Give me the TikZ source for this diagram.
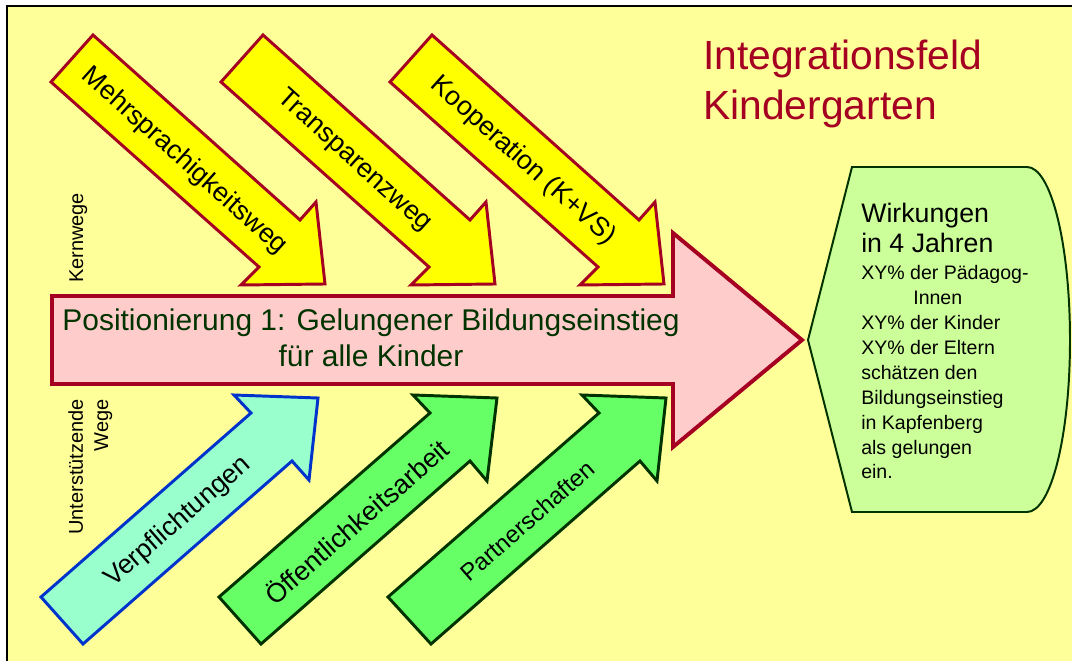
\documentclass[tikz,border=0pt]{standalone}
\usepackage{fontspec}
\setmainfont{Liberation Sans}
\usepackage{tikz}
\usetikzlibrary{positioning}
\definecolor{hintergrund}{RGB}{255,255,153}
\definecolor{wegrot}{RGB}{165,0,33}
\definecolor{kerngelb}{RGB}{255,255,0}
\definecolor{posrosa}{RGB}{255,204,204}
\definecolor{pflichtblau}{RGB}{0,51,204}
\definecolor{pflichtmint}{RGB}{153,255,204}
\definecolor{stuetzgruen}{RGB}{102,255,102}
\definecolor{dunkelgruen}{RGB}{0,51,0}
\definecolor{wirkgruen}{RGB}{204,255,153}

\begin{document}
\begin{tikzpicture}[x=0.025cm, y=-0.025cm, line join=miter,
    kernpfeil/.style={draw=wegrot, fill=kerngelb, line width=2.1pt},
    stuetzpfeil/.style={draw=dunkelgruen, fill=stuetzgruen, line width=2.1pt},
    pfeiltext/.style={inner sep=0pt, font=\fontsize{19}{23}\selectfont},
    seitentext/.style={inner sep=0pt, rotate=90, font=\fontsize{14.2}{17.8}\selectfont}]
    % Background
    \useasboundingbox (0,0) rectangle (1072,661);
    \fill[white] (0,0) rectangle (1072,661);
    \fill[hintergrund] (7,6) rectangle (1072,661);
    \draw[line width=1pt] (7,661) -- (7,6) -- (1072,6);

    % Title (base = last line)
    \node[anchor=base west, inner sep=0pt, align=left, text=wegrot,
        font=\fontsize{29}{35.6}\selectfont] (titel) at (703,120) {Integrationsfeld\\Kindergarten};

    % Draw the core paths
    \foreach \dx/\wegname/\nr in {0/Mehrsprachigkeitsweg/1, 170/Transparenzweg/2, 339/{Kooperation (K+VS)}/3} {
        \begin{scope}[shift={(\dx,0)}]
            \draw[kernpfeil] (93,35) -- (300,220) -- (316,202) -- (325,284) -- (241,285) -- (259,267) -- (51,82) -- cycle;
            \node[pfeiltext, rotate=-41.9] (kern\nr) at (184,161) {\wegname};
        \end{scope}
    }

    % Draw the main arrow
    \draw[wegrot, fill=posrosa, line width=2.8pt] (52,296) -- (673,296) -- (673,233) -- (802,340)
        -- (673,447) -- (673,384) -- (52,384) -- cycle;
    \node[anchor=base, align=center, inner sep=0pt, text=dunkelgruen,
        font=\fontsize{21.3}{26.3}\selectfont] (position) at (371,367)
        {Positionierung 1: Gelungener Bildungseinstieg\\für alle Kinder};

    % Draw the supporting paths
    \draw[pflichtblau, fill=pflichtmint, line width=2.1pt] (41,597) -- (251,413) -- (234,395) -- (318,398)
        -- (309,480) -- (292,461) -- (83,644) -- cycle;
    \node[pfeiltext, rotate=41.1] (pflicht) at (178,522) {Verpflichtungen};
    \draw[stuetzpfeil] (219,597) -- (430,413) -- (413,395) -- (497,398) -- (487,481) -- (470,461) -- (261,644) -- cycle;
    \node[pfeiltext, rotate=41.1] (oeffentlich) at (356,521) {Öffentlichkeitsarbeit};
    \draw[stuetzpfeil] (388,597) -- (599,413) -- (582,395) -- (666,398) -- (657,481) -- (640,461) -- (431,644) -- cycle;
    \node[pfeiltext, rotate=41.1, font=\fontsize{17}{20}\selectfont] (partner) at (527,521) {Partnerschaften};

    % Side labels
    \node[seitentext, anchor=base] (kernwege) at (83,238) {Kernwege};
    \node[seitentext, anchor=base, align=right] (stuetzwege) at (108,467) {Unterstützende\\Wege};

    % Draw the result box
    \draw[dunkelgruen, fill=wirkgruen, line width=1.4pt] (852,167) -- (1027,167)
        .. controls (1051,167) and (1070,244) .. (1070,340)
        .. controls (1070,436) and (1051,512) .. (1027,512) -- (852,512) -- (808,340) -- cycle;
    \node[anchor=base west, align=left, inner sep=0pt, font=\fontsize{19}{22}\selectfont] (wirkungen)
        at (861,253) {Wirkungen\\in 4 Jahren};
    \node[anchor=base west, align=left, inner sep=0pt, font=\fontsize{13.9}{17.7}\selectfont] (ergebnis)
        at (861,479) {XY\% der Pädagog-\\\hspace*{37pt}Innen\\XY\% der Kinder\\XY\% der Eltern\\schätzen den\\Bildungseinstieg\\in Kapfenberg\\als gelungen\\ein.};
\end{tikzpicture}
\end{document}
